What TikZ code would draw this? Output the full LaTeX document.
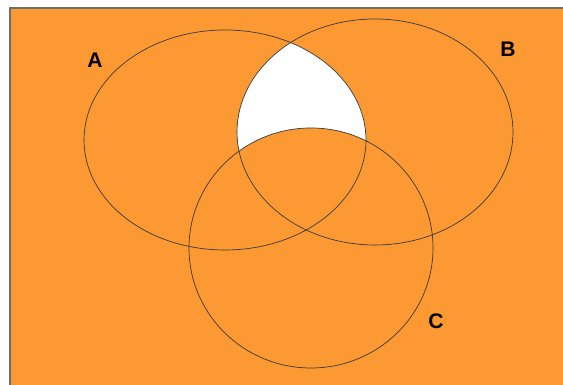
\documentclass[tikz,border=0pt]{standalone}
\usepackage{fontspec}
\setmainfont{Liberation Sans}
\definecolor{vnorange}{HTML}{FC9933}
\definecolor{vnline}{HTML}{3A3A3A}
\definecolor{vnframe}{HTML}{6E6E6E}
\begin{document}
\begin{tikzpicture}[
  x=0.025cm, y=0.025cm,
  setline/.style={draw=vnline, line width=0.5pt},
  setlab/.style={font=\fontsize{15}{18}\selectfont\bfseries, text=black, inner sep=0pt},
]

% Canvas and orange panel
\useasboundingbox (0,0) rectangle (563,385);
\fill[white] (0,0) rectangle (563,385);
\fill[vnorange] (10,0) rectangle (563,377);
\draw[vnframe, line width=0.9pt] (10,0) -- (10,377) -- (563,377);

% A and B without C
\begin{scope}
  \clip (225,245) ellipse [x radius=141, y radius=110];
  \clip (375,253) ellipse [x radius=138, y radius=113];
  \fill[white] (0,0) rectangle (563,385);
  \fill[vnorange] (311,137) ellipse [x radius=122, y radius=120];
\end{scope}

% Outlines
\draw[setline] (225,245) ellipse [x radius=141, y radius=110];
\draw[setline] (375,253) ellipse [x radius=138, y radius=113];
\draw[setline] (311,137) ellipse [x radius=122, y radius=120];

\node[setlab] (labA) at (95,325) {A};
\node[setlab] (labB) at (508,336) {B};
\node[setlab] (labC) at (436,64) {C};
\end{tikzpicture}
\end{document}
